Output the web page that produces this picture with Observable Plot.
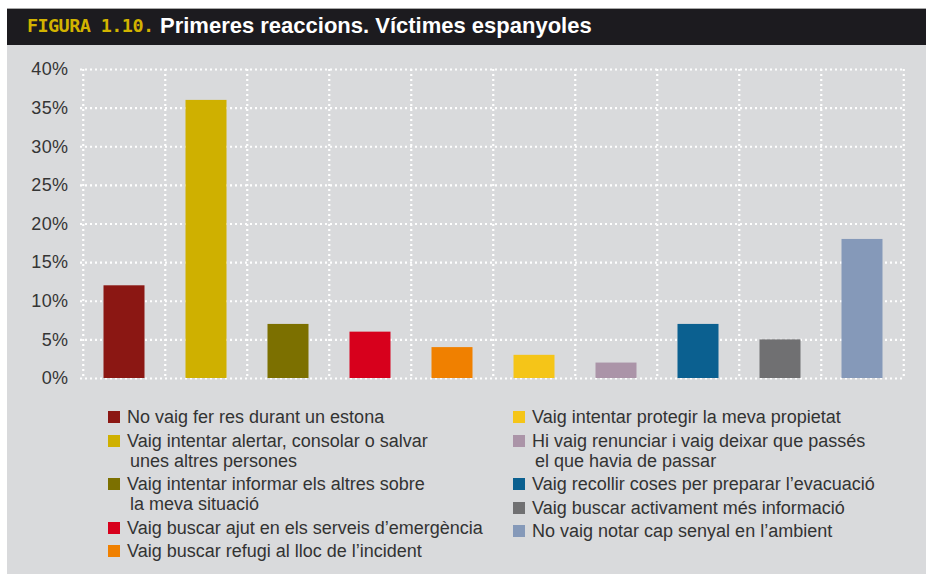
<!DOCTYPE html>
<html>
<head>
<meta charset="utf-8">
<script src="https://cdn.jsdelivr.net/npm/d3@7"></script>
<script src="https://cdn.jsdelivr.net/npm/@observablehq/plot@0.6"></script>
<style>
  html, body { margin: 0; padding: 0; background: #fff; width: 926px; height: 574px; overflow: hidden; }
  body { position: relative; font-family: "Liberation Sans", Arial, sans-serif; }
  #panel { position: absolute; left: 7px; top: 8px; width: 919px; height: 566px; background: #d9dadc; border-top: 1px solid #a8a8a8; box-sizing: border-box; }
  #titlebar { position: absolute; left: 0; top: 0; width: 919px; height: 36px; background: #1c1b1f; }
  #fig { position: absolute; left: 20px; top: 6px; font-family: "DejaVu Sans Mono", monospace; font-weight: bold; font-size: 18.5px; letter-spacing: -0.6px; color: #d2b300; }
  #ttl { position: absolute; left: 153px; top: 4px; font-family: "Liberation Sans", Arial, sans-serif; font-weight: bold; font-size: 22px; color: #fff; }
  #chart { position: absolute; left: 0; top: 36px; }
  #legend { position: absolute; left: 101px; top: 398px; display: flex; }
  .col { width: 405px; }
  .item { display: flex; align-items: flex-start; margin-bottom: 3.5px; }
  .sw { width: 12px; height: 12px; margin-top: 4px; margin-right: 7px; flex: none; }
  .lbl { font-size: 18px; line-height: 20px; color: #333; }
  .lbl .cont { padding-left: 3px; }
</style>
</head>
<body>
<div id="panel">
  <div id="titlebar"><span id="fig">FIGURA 1.10.</span><span id="ttl">Primeres reaccions. Víctimes espanyoles</span></div>
  <div id="chart"></div>
  <div id="legend"></div>
</div>
<script>
const categories = [
  "No vaig fer res durant un estona",
  "Vaig intentar alertar, consolar o salvar\nunes altres persones",
  "Vaig intentar informar els altres sobre\nla meva situació",
  "Vaig buscar ajut en els serveis d’emergència",
  "Vaig buscar refugi al lloc de l’incident",
  "Vaig intentar protegir la meva propietat",
  "Hi vaig renunciar i vaig deixar que passés\nel que havia de passar",
  "Vaig recollir coses per preparar l’evacuació",
  "Vaig buscar activament més informació",
  "No vaig notar cap senyal en l’ambient"
];
const values = [12, 36, 7, 6, 4, 3, 2, 7, 5, 18];
const colors = ["#8b1713", "#cfb000", "#7c7000", "#d7001c", "#f08000", "#f5c518", "#ab94a8", "#0b6090", "#707072", "#8599b9"];
const yTicks = [0, 5, 10, 15, 20, 25, 30, 35, 40];
const leftColumn = [0, 1, 2, 3, 4];
const rightColumn = [5, 6, 7, 8, 9];

const data = categories.map((c, i) => ({category: c, value: values[i]}));

const W = 919, ML = 73, MR = 21;
const bw = (W - ML - MR) / categories.length;
const dotted = {stroke: "#fff", strokeWidth: 2.2, strokeDasharray: "2,3"};

const chart = Plot.plot({
  width: W,
  height: 345,
  marginTop: 24,
  marginBottom: 12,
  marginLeft: ML,
  marginRight: MR,
  style: {background: "transparent", fontFamily: "Liberation Sans, Arial, sans-serif", fontSize: "18px", color: "#353535", letterSpacing: "0.4px"},
  x: {domain: categories, padding: 0, axis: null},
  y: {domain: [0, 40], ticks: yTicks, tickFormat: d => d + "%", tickSize: 0, tickPadding: 12, label: null},
  color: {domain: categories, range: colors},
  marks: [
    Plot.ruleY(yTicks, {y: d => d, ...dotted}),
    Plot.ruleX(categories, {x: d => d, dx: -bw / 2, ...dotted}),
    Plot.ruleX(categories.slice(-1), {x: d => d, dx: bw / 2, ...dotted}),
    Plot.barY(data, {x: "category", y: "value", fill: "category", insetLeft: 20.5, insetRight: 20.5})
  ]
});
document.getElementById("chart").appendChild(chart);

const legend = d3.select("#legend");
for (const col of [leftColumn, rightColumn]) {
  const c = legend.append("div").attr("class", "col");
  for (const i of col) {
    const it = c.append("div").attr("class", "item");
    it.append("div").attr("class", "sw").style("background", colors[i]);
    const lb = it.append("div").attr("class", "lbl");
    categories[i].split("\n").forEach((line, k) => {
      lb.append("div").attr("class", k ? "cont" : null).text(line);
    });
  }
}
</script>
</body>
</html>
